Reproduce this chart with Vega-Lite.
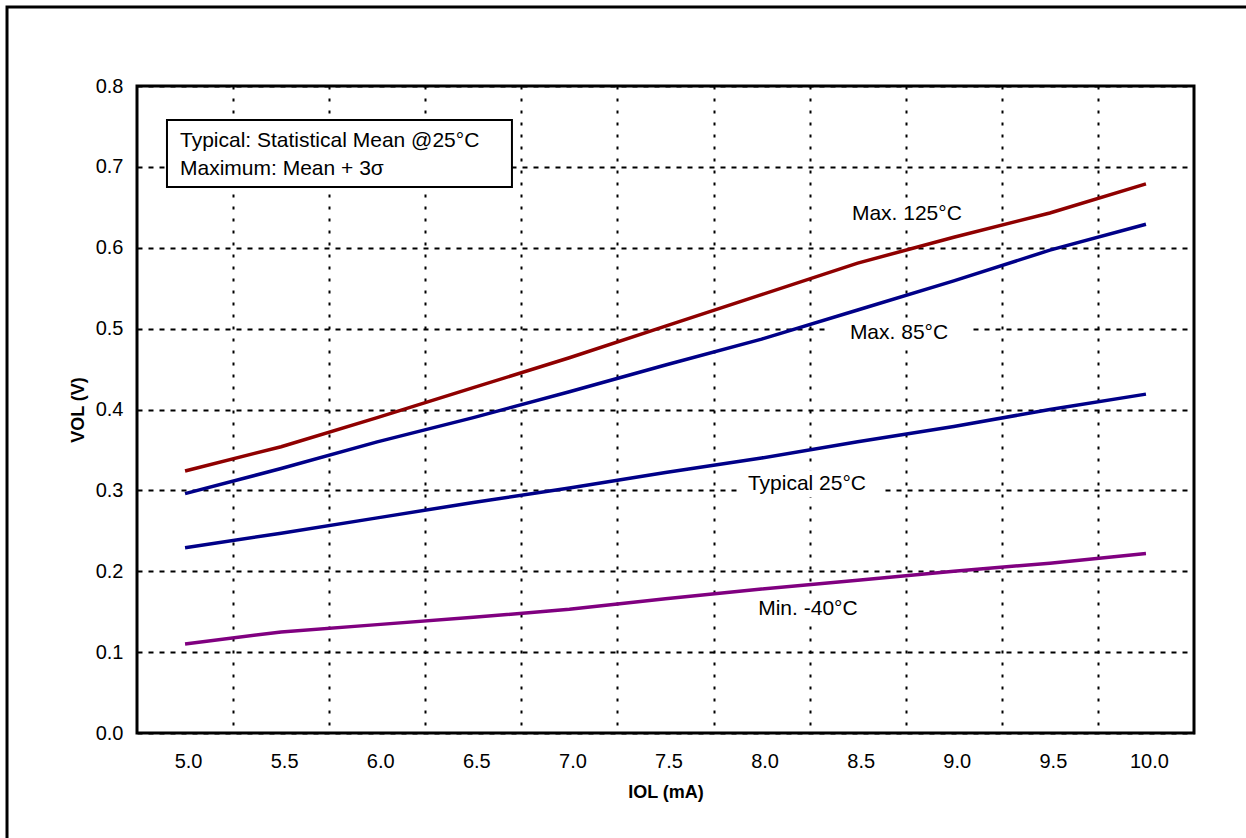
{
  "$schema": "https://vega.github.io/schema/vega-lite/v6.json",
  "width": 1057,
  "height": 647,
  "autosize": "none",
  "padding": {"left": 137, "top": 86, "right": 52, "bottom": 105},
  "background": "white",
  "config": {
    "font": "Liberation Sans",
    "view": {"stroke": "black", "strokeWidth": 3},
    "axis": {"labelColor": "black", "titleColor": "black", "labelFont": "Liberation Sans", "titleFont": "Liberation Sans"}
  },
  "data": {
    "values": [
      {"iol": 5.0, "vol": 0.324, "series": "Max. 125°C"},
      {"iol": 5.5, "vol": 0.354, "series": "Max. 125°C"},
      {"iol": 6.0, "vol": 0.390, "series": "Max. 125°C"},
      {"iol": 6.5, "vol": 0.427, "series": "Max. 125°C"},
      {"iol": 7.0, "vol": 0.464, "series": "Max. 125°C"},
      {"iol": 7.5, "vol": 0.503, "series": "Max. 125°C"},
      {"iol": 8.0, "vol": 0.542, "series": "Max. 125°C"},
      {"iol": 8.5, "vol": 0.581, "series": "Max. 125°C"},
      {"iol": 9.0, "vol": 0.613, "series": "Max. 125°C"},
      {"iol": 9.5, "vol": 0.643, "series": "Max. 125°C"},
      {"iol": 10.0, "vol": 0.679, "series": "Max. 125°C"},
      {"iol": 5.0, "vol": 0.296, "series": "Max. 85°C"},
      {"iol": 5.5, "vol": 0.327, "series": "Max. 85°C"},
      {"iol": 6.0, "vol": 0.360, "series": "Max. 85°C"},
      {"iol": 6.5, "vol": 0.390, "series": "Max. 85°C"},
      {"iol": 7.0, "vol": 0.422, "series": "Max. 85°C"},
      {"iol": 7.5, "vol": 0.455, "series": "Max. 85°C"},
      {"iol": 8.0, "vol": 0.487, "series": "Max. 85°C"},
      {"iol": 8.5, "vol": 0.523, "series": "Max. 85°C"},
      {"iol": 9.0, "vol": 0.559, "series": "Max. 85°C"},
      {"iol": 9.5, "vol": 0.597, "series": "Max. 85°C"},
      {"iol": 10.0, "vol": 0.629, "series": "Max. 85°C"},
      {"iol": 5.0, "vol": 0.229, "series": "Typical 25°C"},
      {"iol": 5.5, "vol": 0.247, "series": "Typical 25°C"},
      {"iol": 6.0, "vol": 0.266, "series": "Typical 25°C"},
      {"iol": 6.5, "vol": 0.285, "series": "Typical 25°C"},
      {"iol": 7.0, "vol": 0.303, "series": "Typical 25°C"},
      {"iol": 7.5, "vol": 0.322, "series": "Typical 25°C"},
      {"iol": 8.0, "vol": 0.340, "series": "Typical 25°C"},
      {"iol": 8.5, "vol": 0.360, "series": "Typical 25°C"},
      {"iol": 9.0, "vol": 0.379, "series": "Typical 25°C"},
      {"iol": 9.5, "vol": 0.400, "series": "Typical 25°C"},
      {"iol": 10.0, "vol": 0.419, "series": "Typical 25°C"},
      {"iol": 5.0, "vol": 0.110, "series": "Min. -40°C"},
      {"iol": 5.5, "vol": 0.125, "series": "Min. -40°C"},
      {"iol": 6.0, "vol": 0.134, "series": "Min. -40°C"},
      {"iol": 6.5, "vol": 0.143, "series": "Min. -40°C"},
      {"iol": 7.0, "vol": 0.153, "series": "Min. -40°C"},
      {"iol": 7.5, "vol": 0.166, "series": "Min. -40°C"},
      {"iol": 8.0, "vol": 0.178, "series": "Min. -40°C"},
      {"iol": 8.5, "vol": 0.189, "series": "Min. -40°C"},
      {"iol": 9.0, "vol": 0.200, "series": "Min. -40°C"},
      {"iol": 9.5, "vol": 0.210, "series": "Min. -40°C"},
      {"iol": 10.0, "vol": 0.222, "series": "Min. -40°C"}
    ]
  },
  "resolve": {"axis": {"x": "independent", "y": "independent"}},
  "layer": [
    {
      "data": {"values": [{}]},
      "mark": {"type": "rect", "fill": null, "filled": false, "stroke": "black", "strokeWidth": 3},
      "encoding": {
        "x": {"datum": 4.0736, "type": "quantitative", "scale": {"domain": [4.75, 10.25], "nice": false, "zero": false},
          "axis": {"orient": "bottom", "values": [5.25, 5.75, 6.25, 6.75, 7.25, 7.75, 8.25, 8.75, 9.25, 9.75],
            "grid": true, "gridColor": "black", "gridWidth": 2, "gridDash": [3, 9], "labels": false, "ticks": false, "domain": false, "title": null}},
        "x2": {"datum": 14},
        "y": {"datum": 0.8977, "type": "quantitative", "scale": {"domain": [0, 0.8], "nice": false},
          "axis": {"orient": "left", "values": [0, 0.1, 0.2, 0.3, 0.4, 0.5, 0.6, 0.7, 0.8], "format": ".1f", "grid": true, "gridColor": "black", "gridWidth": 2, "gridDash": [5, 6],
            "ticks": false, "domain": false, "labelFontSize": 20, "labelPadding": 14,
            "title": "VOL (V)", "titleFontSize": 18, "titleFontWeight": "bold", "titlePadding": 8}},
        "y2": {"datum": -0.6}
      }
    },
    {
      "data": {"values": [{}]},
      "mark": {"type": "rect", "fill": "white", "stroke": null},
      "encoding": {
        "x": {"datum": 8.418, "type": "quantitative", "axis": null},
        "x2": {"datum": 9.095},
        "y": {"datum": 0.660, "type": "quantitative", "axis": null},
        "y2": {"datum": 0.627}
      }
    },
    {
      "data": {"values": [{}]},
      "mark": {"type": "rect", "fill": "white", "stroke": null},
      "encoding": {
        "x": {"datum": 8.33, "type": "quantitative", "axis": null},
        "x2": {"datum": 9.10},
        "y": {"datum": 0.513, "type": "quantitative", "axis": null},
        "y2": {"datum": 0.4785}
      }
    },
    {
      "data": {"values": [{}]},
      "mark": {"type": "rect", "fill": "white", "stroke": null},
      "encoding": {
        "x": {"datum": 7.877, "type": "quantitative", "axis": null},
        "x2": {"datum": 8.627},
        "y": {"datum": 0.325, "type": "quantitative", "axis": null},
        "y2": {"datum": 0.2918}
      }
    },
    {
      "data": {"values": [{}]},
      "mark": {"type": "rect", "fill": "white", "stroke": null},
      "encoding": {
        "x": {"datum": 7.94, "type": "quantitative", "axis": null},
        "x2": {"datum": 8.554},
        "y": {"datum": 0.1719, "type": "quantitative", "axis": null},
        "y2": {"datum": 0.1385}
      }
    },
    {
      "mark": {"type": "line", "strokeWidth": 3.5, "strokeCap": "butt"},
      "encoding": {
        "x": {"field": "iol", "type": "quantitative",
          "axis": {"orient": "bottom", "values": [5, 5.5, 6, 6.5, 7, 7.5, 8, 8.5, 9, 9.5, 10], "format": ".1f", "grid": false, "ticks": false, "domain": false,
            "labelFontSize": 20, "labelPadding": 18, "labelFlush": false, "labelOffset": 3,
            "title": "IOL (mA)", "titleFontSize": 18, "titleFontWeight": "bold", "titlePadding": 12}},
        "y": {"field": "vol", "type": "quantitative", "axis": null},
        "color": {"field": "series", "type": "nominal",
          "scale": {"domain": ["Max. 125°C", "Max. 85°C", "Typical 25°C", "Min. -40°C"], "range": ["#8f0000", "#000088", "#000088", "#800080"]},
          "legend": null},
        "detail": {"field": "series"}
      }
    },
    {
      "data": {"values": [{}]},
      "mark": {"type": "text", "text": "Max. 125°C", "fontSize": 21, "align": "center", "baseline": "alphabetic", "fill": "black"},
      "encoding": {
        "x": {"datum": 8.756, "type": "quantitative", "axis": null},
        "y": {"datum": 0.6343, "type": "quantitative", "axis": null}
      }
    },
    {
      "data": {"values": [{}]},
      "mark": {"type": "text", "text": "Max. 85°C", "fontSize": 21, "align": "center", "baseline": "alphabetic", "fill": "black"},
      "encoding": {
        "x": {"datum": 8.715, "type": "quantitative", "axis": null},
        "y": {"datum": 0.4872, "type": "quantitative", "axis": null}
      }
    },
    {
      "data": {"values": [{}]},
      "mark": {"type": "text", "text": "Typical 25°C", "fontSize": 21, "align": "center", "baseline": "alphabetic", "fill": "black"},
      "encoding": {
        "x": {"datum": 8.236, "type": "quantitative", "axis": null},
        "y": {"datum": 0.3005, "type": "quantitative", "axis": null}
      }
    },
    {
      "data": {"values": [{}]},
      "mark": {"type": "text", "text": "Min. -40°C", "fontSize": 21, "align": "center", "baseline": "alphabetic", "fill": "black"},
      "encoding": {
        "x": {"datum": 8.241, "type": "quantitative", "axis": null},
        "y": {"datum": 0.1459, "type": "quantitative", "axis": null}
      }
    },
    {
      "data": {"values": [{}]},
      "mark": {"type": "rect", "fill": "white", "stroke": "black", "strokeWidth": 2},
      "encoding": {
        "x": {"datum": 4.906, "type": "quantitative", "axis": null},
        "x2": {"datum": 6.701},
        "y": {"datum": 0.758, "type": "quantitative", "axis": null},
        "y2": {"datum": 0.6751}
      }
    },
    {
      "data": {"values": [{}]},
      "mark": {"type": "text", "text": "Typical: Statistical Mean @25°C", "fontSize": 21, "align": "left", "baseline": "alphabetic", "fill": "black"},
      "encoding": {
        "x": {"datum": 4.9737, "type": "quantitative", "axis": null},
        "y": {"datum": 0.725, "type": "quantitative", "axis": null}
      }
    },
    {
      "data": {"values": [{}]},
      "mark": {"type": "text", "text": "Maximum: Mean + 3σ", "fontSize": 21, "align": "left", "baseline": "alphabetic", "fill": "black"},
      "encoding": {
        "x": {"datum": 4.9737, "type": "quantitative", "axis": null},
        "y": {"datum": 0.690, "type": "quantitative", "axis": null}
      }
    }
  ]
}
